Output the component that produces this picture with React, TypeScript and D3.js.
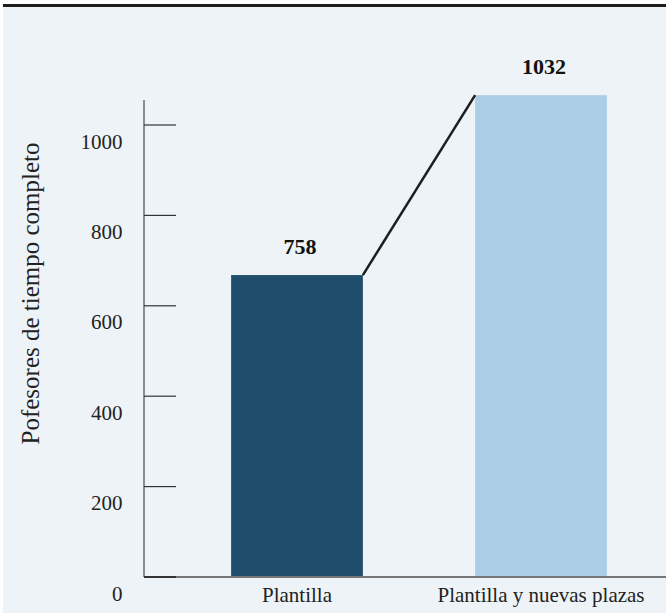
import React from "react";
import * as d3 from "d3";

const categories: string[] = ["Plantilla", "Plantilla y nuevas plazas"];
const barValues: number[] = [668, 1066];
const valueLabels: string[] = ["758", "1032"];
const yTicks: number[] = [0, 200, 400, 600, 800, 1000];
const barColors: string[] = ["#1f4e6d", "#abcee7"];
const yTitle = "Pofesores de tiempo completo";

const W = 666;
const H = 613;

export default function App() {
  const y = d3.scaleLinear().domain([0, 1000]).range([577, 125]);
  const x = d3.scaleBand<string>().domain(categories).range([175, 663]).paddingInner(0.46).paddingOuter(0.23);
  const bw = x.bandwidth();
  const font = "'Liberation Serif', 'Times New Roman', serif";
  const axisX = 144;

  const b0 = categories[0];
  const b1 = categories[1];
  const lineGen = d3.line<[number, number]>();
  const connector = lineGen([
    [(x(b0) ?? 0) + bw, y(barValues[0])],
    [x(b1) ?? 0, y(barValues[1])],
  ]);

  return (
    <svg width={W} height={H} style={{ position: "absolute", left: 0, top: 0, display: "block" }} fontFamily={font}>
      <rect x={0} y={0} width={W} height={H} fill="#ffffff" />
      <rect x={3} y={7} width={W - 3} height={H - 7} fill="#eef3f7" />
      <rect x={3} y={4} width={W - 3} height={3} fill="#1e1e1e" />

      {/* bars */}
      {categories.map((c, i) => (
        <rect key={c} x={x(c)} y={y(barValues[i])} width={bw} height={y(0) - y(barValues[i])} fill={barColors[i]} />
      ))}

      {/* connector */}
      <path d={connector ?? ""} stroke="#1e1e1e" strokeWidth={2.5} fill="none" />

      {/* value labels */}
      {categories.map((c, i) => (
        <text
          key={c}
          x={(x(c) ?? 0) + bw / 2 + 3}
          y={y(barValues[i]) - 21}
          textAnchor="middle"
          fontWeight="bold"
          fontSize={22}
          fill="#111"
        >
          {valueLabels[i]}
        </text>
      ))}

      {/* y axis */}
      <line x1={axisX} x2={axisX} y1={100} y2={577} stroke="#6b6b6b" strokeWidth={1.5} />
      <line x1={axisX} x2={W} y1={577} y2={577} stroke="#777" strokeWidth={2} />
      {yTicks.map((t) => (
        <g key={t}>
          <line x1={axisX} x2={176} y1={y(t)} y2={y(t)} stroke="#333" strokeWidth={t === 0 ? 2 : 1.2} />
          <text x={122.5} y={y(t) + 23.5} textAnchor="end" fontSize={21} fill="#222">
            {t}
          </text>
        </g>
      ))}

      {/* x labels */}
      {categories.map((c) => (
        <text key={c} x={(x(c) ?? 0) + bw / 2} y={602} textAnchor="middle" fontSize={21} fill="#222">
          {c}
        </text>
      ))}

      {/* y title */}
      <text transform={`translate(38.5,293.5) rotate(-90)`} textAnchor="middle" fontSize={25} fill="#222">
        {yTitle}
      </text>
    </svg>
  );
}
